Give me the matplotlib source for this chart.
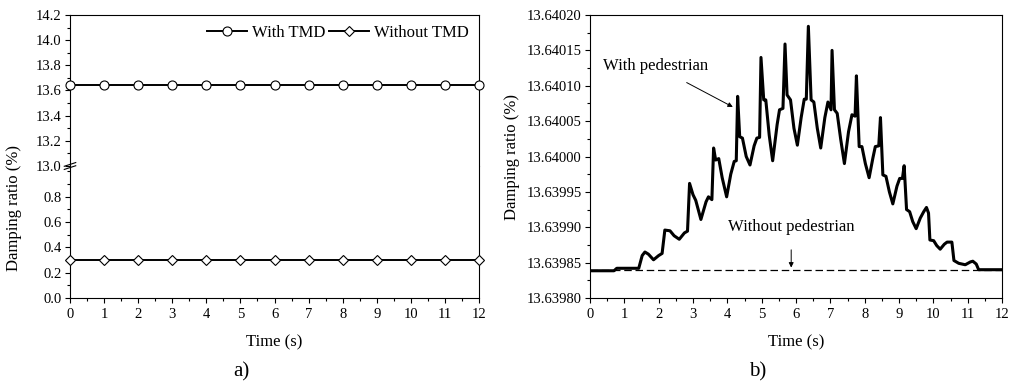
import numpy as np
import matplotlib.pyplot as plt
from matplotlib.ticker import MultipleLocator, FormatStrFormatter

plt.rcParams.update({
    "font.family": ["Liberation Serif", "DejaVu Serif"],
    "font.size": 10.5,
    "axes.linewidth": 0.8,
    "xtick.direction": "out",
    "ytick.direction": "out",
    "xtick.major.size": 3.5,
    "ytick.major.size": 3.5,
    "xtick.minor.size": 2,
    "ytick.minor.size": 2,
    "xtick.major.width": 0.8,
    "ytick.major.width": 0.8,
    "xtick.minor.width": 0.8,
    "ytick.minor.width": 0.8,
    "xtick.major.pad": 4,
    "ytick.major.pad": 2.5,
})
LABEL_FS = 12

# =========================
# DATA
# =========================
# panel a)
time_a = [0, 1, 2, 3, 4, 5, 6, 7, 8, 9, 10, 11, 12]
with_tmd = [13.64, 13.64, 13.64, 13.64, 13.64, 13.64, 13.64,
            13.64, 13.64, 13.64, 13.64, 13.64, 13.64]
without_tmd = [0.30, 0.30, 0.30, 0.30, 0.30, 0.30, 0.30,
               0.30, 0.30, 0.30, 0.30, 0.30, 0.30]

# panel b)  (values read off the curve)
time_b = [0.00, 0.70, 0.78, 1.42, 1.52, 1.60, 1.70, 1.85, 2.00, 2.10,
          2.18, 2.33, 2.45, 2.60, 2.75, 2.84, 2.90, 3.00, 3.08, 3.23,
          3.38, 3.45, 3.55, 3.60, 3.66, 3.75, 3.85, 3.98, 4.10, 4.20,
          4.26, 4.30, 4.36, 4.44, 4.55, 4.66, 4.78, 4.86, 4.94, 4.98,
          5.06, 5.12, 5.22, 5.32, 5.45, 5.52, 5.62, 5.68, 5.74, 5.84,
          5.94, 6.04, 6.15, 6.24, 6.30, 6.36, 6.44, 6.52, 6.62, 6.72,
          6.84, 6.93, 7.02, 7.05, 7.12, 7.20, 7.30, 7.41, 7.53, 7.63,
          7.72, 7.76, 7.84, 7.92, 8.02, 8.13, 8.24, 8.31, 8.41, 8.46,
          8.53, 8.62, 8.72, 8.82, 8.94, 9.02, 9.10, 9.15, 9.22, 9.31,
          9.40, 9.50, 9.62, 9.72, 9.80, 9.86, 9.90, 10.01, 10.10, 10.20,
          10.32, 10.40, 10.54, 10.60, 10.74, 10.93, 11.08, 11.15, 11.25, 11.32,
          12.00]
with_ped = [13.6398385, 13.6398385, 13.639842, 13.639842, 13.639860, 13.639865, 13.639862, 13.639854, 13.639860, 13.639863,
            13.639896, 13.639895, 13.639888, 13.639883, 13.639892, 13.6398945, 13.639962, 13.639946, 13.639938, 13.639911,
            13.639936, 13.639943, 13.639939, 13.640012, 13.639995, 13.639997, 13.639970, 13.639943, 13.639975, 13.639993,
            13.639994, 13.640085, 13.640028, 13.640026, 13.640000, 13.639988, 13.640015, 13.640026, 13.640027, 13.640140,
            13.640080, 13.640080, 13.640030, 13.639994, 13.640045, 13.640066, 13.640068, 13.640159, 13.640087, 13.640080,
            13.640040, 13.640016, 13.640055, 13.640081, 13.640081, 13.640184, 13.640080, 13.640077, 13.640040, 13.640012,
            13.640055, 13.640077, 13.640066, 13.640150, 13.640066, 13.640061, 13.640025, 13.639990, 13.640035, 13.640059,
            13.640057, 13.640114, 13.640014, 13.640014, 13.639990, 13.639970, 13.639998, 13.640014, 13.640015, 13.640055,
            13.639974, 13.639972, 13.639950, 13.639933, 13.639958, 13.639969, 13.639969, 13.639987, 13.639925, 13.639922,
            13.639908, 13.639898, 13.639913, 13.639922, 13.639928, 13.639920, 13.639882, 13.639881, 13.639874, 13.639869,
            13.639876, 13.639879, 13.639879, 13.639853, 13.639849, 13.639847, 13.639851, 13.639852, 13.639848, 13.639840,
            13.639840]
time_no_ped = [0, 12]
without_ped = [13.63984, 13.63984]

# =========================
# FIGURE / AXES LAYOUT
# =========================
W, H = 1021, 383
fig = plt.figure(figsize=(W / 100, H / 100), dpi=100)

def fx(px):
    return px / W

def fy(py):
    return 1 - py / H

brk = 166
ax_up = fig.add_axes([fx(70), fy(brk), fx(479 - 70), fy(15) - fy(brk)])
ax_lo = fig.add_axes([fx(70), fy(298), fx(479 - 70), fy(brk) - fy(298)])
ax_b = fig.add_axes([fx(590), fy(298), fx(1002 - 590), fy(15) - fy(298)])

# =========================
# PANEL a)
# =========================
for ax in (ax_up, ax_lo):
    ax.plot(time_a, with_tmd, color='black', linewidth=1.4, marker='o',
            markersize=6.5, markerfacecolor='white', markeredgecolor='black',
            markeredgewidth=0.8, clip_on=False, zorder=3, label="With TMD")
    ax.plot(time_a, without_tmd, color='black', linewidth=1.4, marker='D',
            markersize=5.5, markerfacecolor='white', markeredgecolor='black',
            markeredgewidth=0.8, clip_on=False, zorder=3, label="Without TMD")
    ax.set_xlim(0, 12)
    ax.tick_params(which='both', top=False, right=False)

ax_up.set_ylim(13.0, 14.2)
ax_up.yaxis.set_major_locator(MultipleLocator(0.2))
ax_up.yaxis.set_minor_locator(MultipleLocator(0.1))
ax_up.yaxis.set_major_formatter(FormatStrFormatter('%.1f'))
ax_up.spines['bottom'].set_visible(False)
ax_up.tick_params(axis='x', which='both', bottom=False, labelbottom=False)

ax_lo.set_ylim(0, (298 - brk) / 25.3 * 0.2)
ax_lo.yaxis.set_major_locator(MultipleLocator(0.2))
ax_lo.yaxis.set_minor_locator(MultipleLocator(0.1))
ax_lo.yaxis.set_major_formatter(FormatStrFormatter('%.1f'))
ax_lo.set_yticks([0.0, 0.2, 0.4, 0.6, 0.8])
ax_lo.spines['top'].set_visible(False)
ax_lo.xaxis.set_major_locator(MultipleLocator(1))
ax_lo.xaxis.set_minor_locator(MultipleLocator(0.5))
ax_lo.set_xlabel("Time (s)", fontsize=LABEL_FS, labelpad=9)

# break marks on left spine
for dy in (-0.012, 0.012):
    ax_lo.plot([-0.014, 0.014], [1 + dy - 0.014, 1 + dy + 0.014],
               transform=ax_lo.transAxes, color='black', linewidth=0.8,
               clip_on=False)

fig.text(fx(14), fy(208), "Damping ratio (%)", rotation=90,
         ha='center', va='center', fontsize=LABEL_FS)

ax_up.legend(loc='upper right', ncol=2, frameon=False, numpoints=1,
             handlelength=2.4, columnspacing=0.25, handletextpad=0.3,
             borderaxespad=0.2, fontsize=LABEL_FS, bbox_to_anchor=(1.0, 1.0))

# =========================
# PANEL b)
# =========================
ax_b.plot(time_b, with_ped, color='black', linewidth=2.2)
ax_b.plot(time_no_ped, without_ped, color='black', linewidth=0.9,
          linestyle=(0, (6, 3)))
ax_b.set_xlim(0, 12)
ax_b.set_ylim(13.6398, 13.6402)
ax_b.xaxis.set_major_locator(MultipleLocator(1))
ax_b.xaxis.set_minor_locator(MultipleLocator(0.5))
ax_b.yaxis.set_major_locator(MultipleLocator(0.00005))
ax_b.yaxis.set_minor_locator(MultipleLocator(0.000025))
ax_b.yaxis.set_major_formatter(FormatStrFormatter('%.5f'))
ax_b.tick_params(which='both', top=False, right=False)
ax_b.set_xlabel("Time (s)", fontsize=LABEL_FS, labelpad=9)
ax_b.set_ylabel("Damping ratio (%)", fontsize=LABEL_FS)
ax_b.yaxis.set_label_coords((520 - 590) / 412, 0.5)

ax_b.annotate("With pedestrian", xy=(4.16, 13.640070), xytext=(1.9, 13.640128),
              ha='center', va='center', fontsize=LABEL_FS,
              arrowprops=dict(arrowstyle='-|>', color='black', linewidth=0.7,
                              mutation_scale=7, shrinkA=9, shrinkB=0))
ax_b.annotate("Without pedestrian", xy=(5.86, 13.639843), xytext=(5.86, 13.639901),
              ha='center', va='center', fontsize=LABEL_FS,
              arrowprops=dict(arrowstyle='-|>', color='black', linewidth=0.7,
                              mutation_scale=7, shrinkA=9, shrinkB=0))

# panel captions
fig.text(fx(241), fy(372), "a)", ha='center', va='center', fontsize=15)
fig.text(fx(758), fy(372), "b)", ha='center', va='center', fontsize=15)

fig.savefig("out.png", dpi=100)
